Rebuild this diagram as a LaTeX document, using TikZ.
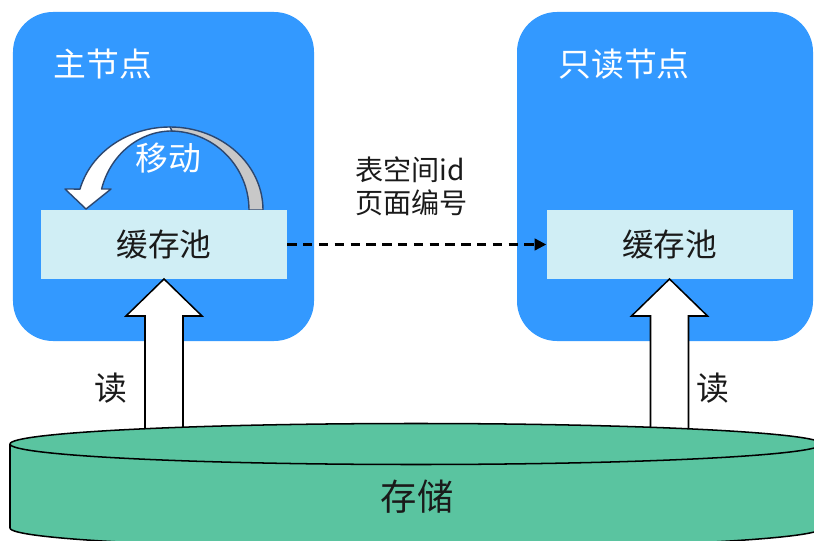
\documentclass[tikz,border=0pt]{standalone}
\usepackage{fontspec}
\newfontfamily\cjk{Noto Sans CJK SC}
\usetikzlibrary{arrows.meta}
\definecolor{nodeblue}{RGB}{51,153,255}
\definecolor{cachecyan}{RGB}{208,238,245}
\definecolor{storegreen}{RGB}{90,196,160}
\definecolor{arrowgray}{RGB}{200,200,200}
\definecolor{arrowline}{RGB}{44,71,112}
\definecolor{textdark}{RGB}{26,26,26}
\begin{document}
\begin{tikzpicture}[x=0.03cm,y=-0.03cm,
  nodebox/.style={fill=nodeblue, rounded corners=1.2cm, inner sep=0pt, minimum height=9.87cm},
  cachebox/.style={fill=cachecyan, inner sep=0pt, minimum width=7.38cm, minimum height=2.07cm,
    font=\cjk\fontsize{27}{30}\selectfont, text=textdark},
  titletext/.style={font=\cjk\fontsize{28}{30}\selectfont, text=white},
  darktext/.style={font=\cjk\fontsize{24}{28}\selectfont, text=textdark},
  upblock/.style={draw=black, fill=white, line width=1.3pt, line join=miter},
  bendband/.style={draw=arrowline, line width=1.2pt, line join=round},
  dashlink/.style={line width=2pt, dash pattern=on 8pt off 5.5pt, -{Triangle[length=10pt,width=10pt]}}
]
\useasboundingbox (0,0) rectangle (814,541);

% node frames
\node[nodebox, minimum width=9.03cm] (master) at (163.5,176.5) {};
\node[nodebox, minimum width=8.88cm] (replica) at (665,176.5) {};
\node[titletext] (mtitle) at (103,64) {主节点};
\node[titletext] (rtitle) at (624,64) {只读节点};

% curved "move" arrow
\draw[bendband, fill=arrowgray] (263,210) arc[start angle=0, end angle=-90, x radius=93, y radius=83]
  -- (170,131) arc[start angle=-90, end angle=0, x radius=79, y radius=79] -- cycle;
\draw[bendband, fill=white] (170,127) arc[start angle=-90, end angle=-165.4, x radius=93, y radius=83]
  -- (65,189) -- (86,209) -- (111,189) -- (101.6,189)
  arc[start angle=-164.6, end angle=-90, x radius=73, y radius=79] -- cycle;
\node[titletext] (movetext) at (168,158) {移动};

% buffer pools
\node[cachebox] (cacheL) at (164,244.5) {缓存池};
\node[cachebox] (cacheR) at (669.5,244.5) {缓存池};

% read arrows
\coordinate (tipL) at (164,279);
\coordinate (tipR) at (669.5,279);
\draw[upblock] ([xshift=-0.57cm]tipL |- 0,470) -- ([xshift=-0.57cm]tipL |- 0,316) -- ([xshift=-1.14cm]tipL |- 0,316)
  -- (tipL) -- ([xshift=1.14cm]tipL |- 0,316) -- ([xshift=0.57cm]tipL |- 0,316) -- ([xshift=0.57cm]tipL |- 0,470);
\draw[upblock] ([xshift=-0.57cm]tipR |- 0,470) -- ([xshift=-0.57cm]tipR |- 0,316) -- ([xshift=-1.14cm]tipR |- 0,316)
  -- (tipR) -- ([xshift=1.14cm]tipR |- 0,316) -- ([xshift=0.57cm]tipR |- 0,316) -- ([xshift=0.57cm]tipR |- 0,470);
\node[darktext, font=\cjk\fontsize{28}{30}\selectfont] (readL) at (111,388) {读};
\node[darktext, font=\cjk\fontsize{28}{30}\selectfont] (readR) at (713,388) {读};

% dashed link
\draw[dashlink] (cacheL.east) -- (cacheR.west);
\node[darktext, anchor=west] (lbl1) at (351,170) {表空间id};
\node[darktext, anchor=west] (lbl2) at (351,203) {页面编号};

% storage cylinder
\draw[fill=storegreen, line width=1.3pt] (10,444) -- (10,528)
  arc[start angle=180, end angle=0, x radius=406, y radius=20.5] -- (822,444);
\draw[fill=storegreen, line width=1.3pt] (416,444) ellipse[x radius=406, y radius=20.5];
\node[darktext, font=\cjk\fontsize{31}{34}\selectfont] (store) at (417,497) {存储};
\end{tikzpicture}
\end{document}
